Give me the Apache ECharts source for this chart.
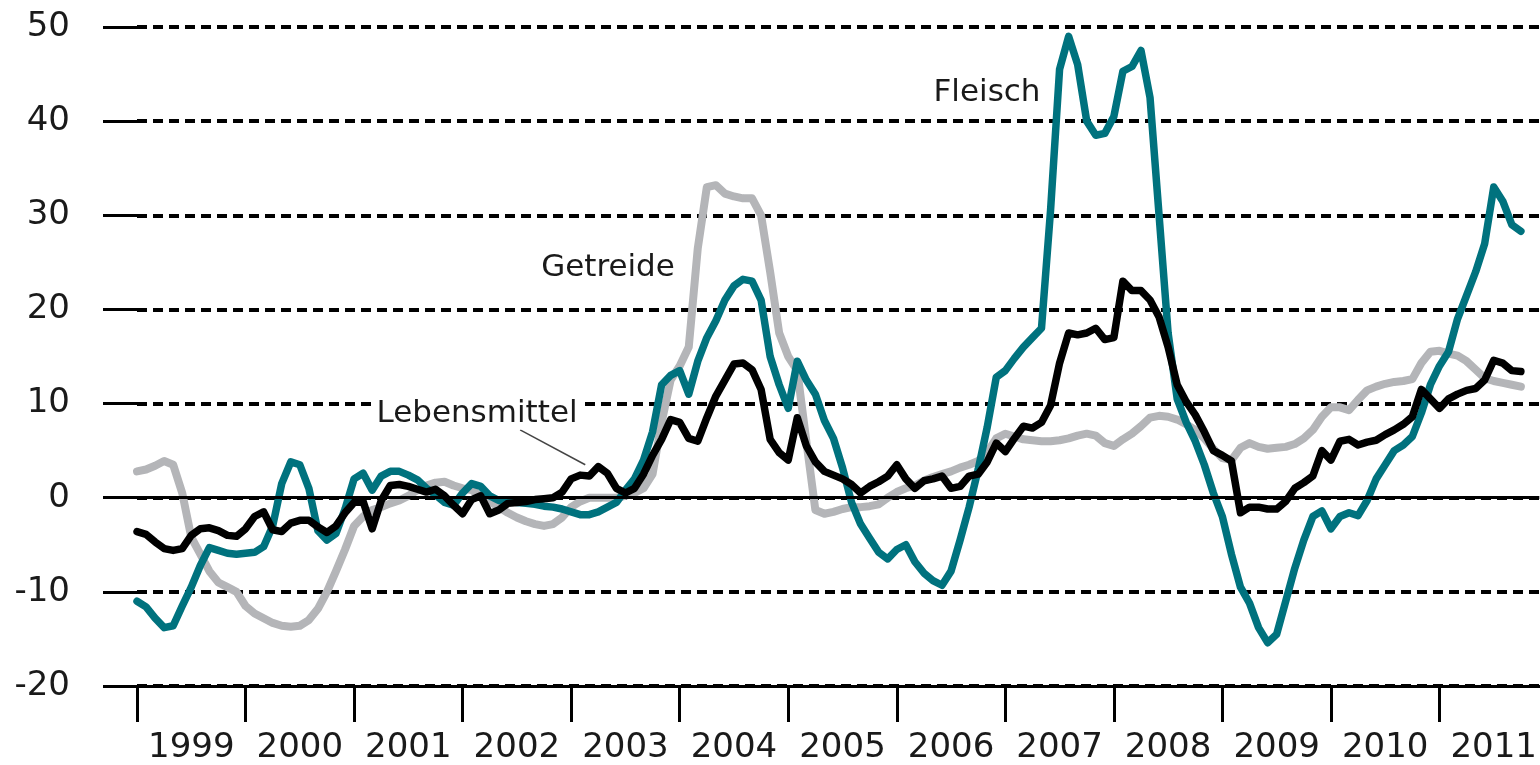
<!DOCTYPE html>
<html>
<head>
<meta charset="utf-8">
<script src="https://cdn.jsdelivr.net/npm/echarts/dist/echarts.min.js"></script>
<style>
html, body { margin: 0; padding: 0; background: #fff; }
#main { width: 1540px; height: 765px; }
</style>
</head>
<body>
<div id="main"></div>
<script>
// monthly values from Jan 1999
var startYear = 1999;
var years = [1999, 2000, 2001, 2002, 2003, 2004, 2005, 2006, 2007, 2008, 2009, 2010, 2011];

var fleisch = [
  -11.0, -11.6, -12.8, -13.8, -13.6, -11.5, -9.5, -7.2, -5.3, -5.6, -5.9, -6.0,
  -5.9, -5.8, -5.2, -3.0, 1.5, 3.8, 3.5, 1.0, -3.5, -4.5, -3.8, -1.2,
  2.0, 2.6, 0.8, 2.3, 2.8, 2.8, 2.4, 1.9, 1.0, 0.3, -0.5, -0.8,
  0.5, 1.5, 1.2, 0.2, -0.3, -0.4, -0.5, -0.6, -0.7, -0.9, -1.0, -1.2,
  -1.5, -1.8, -1.8, -1.5, -1.0, -0.5, 0.8, 2.0, 4.0, 7.0, 12.0, 13.0,
  13.5, 11.0, 14.5, 17.0, 18.8, 21.0, 22.5, 23.2, 23.0, 21.0, 15.0, 12.0,
  9.5, 14.5, 12.5, 11.0, 8.2, 6.3, 3.2, -0.5, -2.8, -4.3, -5.8, -6.5,
  -5.5, -5.0, -6.8, -8.0, -8.8, -9.3, -7.8, -4.5, -1.0, 3.0, 7.5, 12.8,
  13.5, 14.8, 16.0, 17.0, 18.0, 30.5, 45.5, 49.0, 46.0, 40.0, 38.5, 38.7,
  40.5, 45.3, 45.8, 47.5, 42.5, 30.0, 17.5, 10.5, 8.0, 6.0, 3.5, 0.5,
  -2.0, -6.0, -9.5, -11.2, -13.8, -15.4, -14.5, -11.0, -7.5, -4.5, -2.0, -1.4,
  -3.3, -2.0, -1.6, -1.9, -0.3, 2.0, 3.5, 5.0, 5.6, 6.5, 9.0, 12.0,
  14.0, 15.5, 19.0, 21.5, 24.0, 27.0, 33.0, 31.5, 29.0, 28.3
];

var getreide = [
  2.8, 3.0, 3.4, 3.9, 3.5, 0.5, -4.2, -6.0, -7.8, -9.0, -9.5, -10.0,
  -11.5, -12.3, -12.8, -13.3, -13.6, -13.7, -13.6, -13.0, -11.8, -10.0, -7.8, -5.5,
  -3.0, -2.0, -1.3, -1.0, -0.6, -0.3, 0.2, 0.8, 1.3, 1.6, 1.7, 1.3,
  1.0, 0.8, 0.2, -0.4, -1.0, -1.6, -2.1, -2.5, -2.8, -3.0, -2.8, -2.1,
  -1.0, -0.4, 0.0, 0.0, 0.0, 0.0, 0.2, 0.5, 1.0, 2.5, 8.0, 12.5,
  14.0, 16.0, 26.5, 33.0, 33.2, 32.3, 32.0, 31.8, 31.8, 30.0, 24.0, 17.5,
  15.0, 13.5, 6.0, -1.3, -1.7, -1.5, -1.2, -1.0, -1.0, -0.9, -0.7, 0.0,
  0.6, 1.0, 1.3, 1.8, 2.2, 2.5, 2.8, 3.2, 3.5, 3.9, 4.8, 6.3,
  6.8, 6.5, 6.2, 6.1, 6.0, 6.0, 6.1, 6.3, 6.6, 6.8, 6.6, 5.8,
  5.5, 6.2, 6.8, 7.6, 8.5, 8.7, 8.6, 8.3, 7.8, 7.2, 6.3, 5.2,
  4.2, 4.0, 5.3, 5.8, 5.4, 5.2, 5.3, 5.4, 5.7, 6.3, 7.2, 8.6,
  9.6, 9.6, 9.3, 10.4, 11.4, 11.8, 12.1, 12.3, 12.4, 12.6, 14.3, 15.5,
  15.6, 15.3, 15.1, 14.5, 13.6, 12.7, 12.4, 12.2, 12.0, 11.8
];

var lebensmittel = [
  -3.6, -3.9, -4.7, -5.4, -5.6, -5.4, -4.0, -3.3, -3.2, -3.5, -4.0, -4.1,
  -3.3, -2.0, -1.5, -3.4, -3.6, -2.7, -2.4, -2.4, -3.1, -3.7, -3.0, -1.6,
  -0.5, -0.4, -3.3, -0.3, 1.3, 1.4, 1.2, 0.9, 0.6, 0.9, 0.2, -0.8,
  -1.7, -0.2, 0.2, -1.7, -1.3, -0.6, -0.5, -0.4, -0.2, -0.1, 0.0, 0.6,
  2.0, 2.4, 2.3, 3.3, 2.6, 1.0, 0.5, 1.0, 2.5, 4.5, 6.2, 8.3,
  8.0, 6.3, 6.0, 8.5, 10.8, 12.5, 14.2, 14.3, 13.6, 11.5, 6.2, 4.8,
  4.0, 8.5, 5.5, 3.8, 2.8, 2.4, 2.0, 1.4, 0.5, 1.2, 1.7, 2.3,
  3.5, 2.0, 1.0, 1.8, 2.0, 2.3, 1.0, 1.2, 2.3, 2.5, 3.8, 5.8,
  4.9, 6.3, 7.6, 7.4, 8.0, 9.8, 14.3, 17.5, 17.3, 17.5, 18.0, 16.8,
  17.0, 23.0, 22.0, 22.0, 21.0, 19.2, 16.0, 12.0, 10.2, 8.8, 7.0, 5.0,
  4.5, 3.9, -1.6, -1.0, -1.0, -1.2, -1.2, -0.4, 1.0, 1.6, 2.3, 5.0,
  4.0, 6.0, 6.2, 5.6, 5.9, 6.1, 6.7, 7.2, 7.8, 8.6, 11.5, 10.5,
  9.5, 10.5, 11.0, 11.4, 11.6, 12.5, 14.6, 14.3, 13.5, 13.4
];

function toPairs(arr) {
  return arr.map(function (v, i) { return [startYear + i / 12, v]; });
}

var textColor = "#1a1a1a";
var fontFamily = '"DejaVu Sans", sans-serif';

var myChart = echarts.init(document.getElementById("main"));

var option = {
  animation: false,
  backgroundColor: "#fff",
  grid: { left: 137, right: 0, top: 27, bottom: 75 },
  xAxis: {
    type: "value",
    min: 1999,
    max: 2011.92,
    axisLine: { onZero: false, lineStyle: { color: "#000", width: 3 } },
    axisTick: {
      customValues: years,
      length: 36,
      lineStyle: { color: "#000", width: 3 }
    },
    axisLabel: {
      customValues: years.map(function (y) { return y + 0.5; }),
      formatter: function (v) { return String(Math.floor(v)); },
      fontSize: 34,
      fontFamily: fontFamily,
      color: textColor,
      margin: 45
    },
    splitLine: { show: false }
  },
  yAxis: {
    type: "value",
    min: -20,
    max: 50,
    interval: 10,
    axisLine: { show: false },
    axisTick: { show: true, length: 34, lineStyle: { color: "#000", width: 3 } },
    axisLabel: {
      fontSize: 34,
      fontFamily: fontFamily,
      color: textColor,
      margin: 67
    },
    splitLine: {
      show: true,
      lineStyle: { color: "#000", width: 4, type: [10, 6] }
    }
  },
  series: [
    {
      name: "Getreide",
      type: "line",
      data: toPairs(getreide),
      showSymbol: false,
      lineStyle: { color: "#b4b5b8", width: 8, cap: "round", join: "round" },
      markLine: {
        silent: true,
        symbol: "none",
        label: { show: false },
        lineStyle: { color: "#000", width: 3, type: "solid" },
        data: [{ yAxis: 0 }]
      }
    },
    {
      name: "Fleisch",
      type: "line",
      data: toPairs(fleisch),
      showSymbol: false,
      lineStyle: { color: "#00727e", width: 7.5, cap: "round", join: "round" }
    },
    {
      name: "Lebensmittel",
      type: "line",
      data: toPairs(lebensmittel),
      showSymbol: false,
      lineStyle: { color: "#000", width: 7.5, cap: "round", join: "round" },
      // Zeiger vom Text zur Linie
      markLine: {
        silent: true,
        symbol: "none",
        label: { show: false },
        lineStyle: { color: "#444", width: 1.5, type: "solid" },
        data: [[{ coord: [2002.53, 7.2] }, { coord: [2003.13, 3.5] }]]
      }
    }
  ],
  graphic: [
    {
      type: "text", x: 987, y: 93,
      style: { text: "Fleisch", fontSize: 31, fontFamily: fontFamily, fill: textColor, align: "center", verticalAlign: "middle" }
    },
    {
      type: "text", x: 608, y: 268,
      style: { text: "Getreide", fontSize: 31, fontFamily: fontFamily, fill: textColor, align: "center", verticalAlign: "middle" }
    },
    {
      type: "text", x: 477, y: 414, z: 100,
      style: {
        text: "Lebensmittel", fontSize: 31, fontFamily: fontFamily, fill: textColor,
        align: "center", verticalAlign: "middle",
        backgroundColor: "#fff", padding: [0, 5, 0, 5]
      }
    }
  ]
};

myChart.setOption(option);
</script>
</body>
</html>
